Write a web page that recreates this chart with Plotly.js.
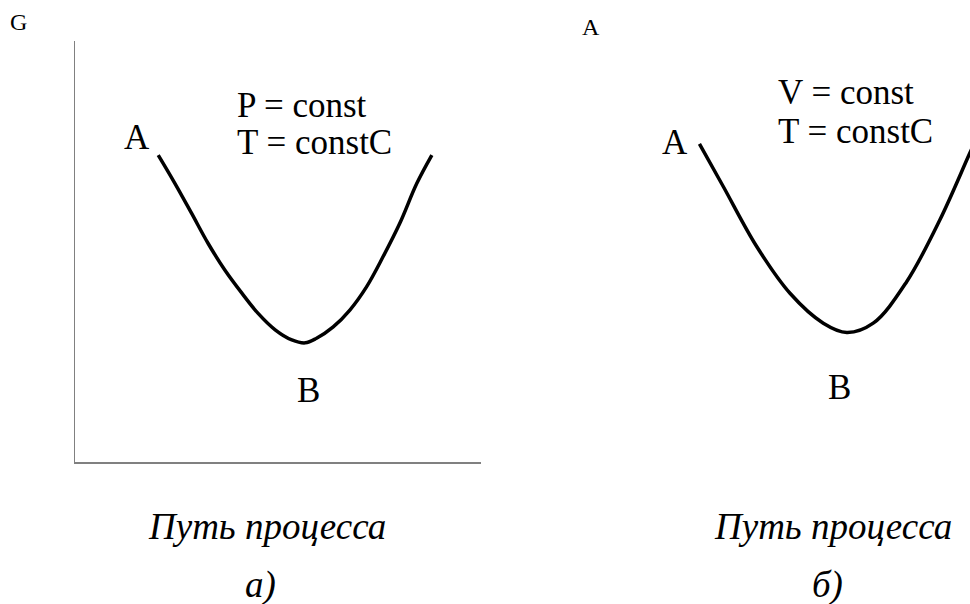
<!DOCTYPE html>
<html>
<head>
<meta charset="utf-8">
<script src="https://cdn.plot.ly/plotly-3.0.1.min.js"></script>
<style>
  html, body { margin: 0; padding: 0; background: #fff; }
  #plot { width: 970px; height: 604px; }
</style>
</head>
<body>
<div id="plot"></div>
<script>
// Путь процесса (условные единицы) и G, панель а) P = const
const pathA = [2.05, 2.46, 2.87, 3.28, 3.69, 4.11, 4.51, 4.93, 5.34, 5.67, 5.95, 6.36, 6.77, 7.18, 7.59, 8.00, 8.42, 8.79];
const gA    = [7.29, 6.62, 5.91, 5.19, 4.56, 4.01, 3.53, 3.14, 2.90, 2.83, 2.94, 3.21, 3.61, 4.16, 4.88, 5.67, 6.62, 7.29];

// панель б) V = const
const pathB = [2.08, 2.67, 3.49, 4.31, 5.13, 5.71, 6.36, 7.18, 8.00, 8.74, 9.11];
const gB    = [7.32, 6.30, 4.88, 3.77, 3.06, 2.84, 3.06, 4.04, 5.51, 7.10, 7.89];

const condA = ['P = const', 'T = constC'];
const condB = ['V = const', 'T = constC'];
const pathTitle = 'Путь процесса';
const panelNames = ['а)', 'б)'];

const serif = 'Liberation Serif';

const data = [
    {
        x: pathA, y: gA,
        xaxis: 'x', yaxis: 'y',
        type: 'scatter', mode: 'lines',
        line: { color: 'black', width: 3.5, shape: 'spline', smoothing: 1 },
        hoverinfo: 'skip'
    },
    {
        x: pathB, y: gB,
        xaxis: 'x2', yaxis: 'y2',
        type: 'scatter', mode: 'lines',
        line: { color: 'black', width: 3.5, shape: 'spline', smoothing: 1 },
        hoverinfo: 'skip'
    }
];

const hidden = {
    showgrid: false, zeroline: false, showticklabels: false, ticks: '', fixedrange: true
};

function label(text, x, y, xref, yref, size, extra) {
    return Object.assign({
        text: text, x: x, y: y, xref: xref, yref: yref,
        showarrow: false, xanchor: 'center', yanchor: 'middle',
        font: { family: serif, size: size, color: 'black' }
    }, extra || {});
}

const annotations = [
    label('G', 0.0186, 0.9636, 'paper', 'paper', 24),
    label('A', 0.609, 0.955, 'paper', 'paper', 24),
    // панель а)
    label('A', 1.53, 7.70, 'x', 'y', 35),
    label('B', 5.76, 1.71, 'x', 'y', 35),
    label(condA[0], 3.95, 8.46, 'x', 'y', 35, { xanchor: 'left' }),
    label(condA[1], 3.95, 7.60, 'x', 'y', 35, { xanchor: 'left' }),
    // панель б)
    label('A', 1.48, 7.36, 'x2', 'y2', 35),
    label('B', 5.52, 1.54, 'x2', 'y2', 35),
    label(condB[0], 3.97, 8.53, 'x2', 'y2', 35, { xanchor: 'left' }),
    label(condB[1], 3.97, 7.62, 'x2', 'y2', 35, { xanchor: 'left' }),
    // подписи снизу
    label('<i>' + pathTitle + '</i>', 0.2753, 0.1275, 'paper', 'paper', 37),
    label('<i>' + panelNames[0] + '</i>', 0.269, 0.0315, 'paper', 'paper', 37),
    label('<i>' + pathTitle + '</i>', 0.8588, 0.1275, 'paper', 'paper', 37),
    label('<i>' + panelNames[1] + '</i>', 0.8526, 0.0315, 'paper', 'paper', 37)
];

const layout = {
    width: 970,
    height: 604,
    margin: { l: 0, r: 0, t: 0, b: 0 },
    paper_bgcolor: 'white',
    plot_bgcolor: 'white',
    showlegend: false,
    font: { family: serif },
    xaxis: Object.assign({}, hidden, {
        domain: [75 / 970, 481 / 970], range: [0, 10],
        showline: true, linecolor: '#808080', linewidth: 1.5
    }),
    yaxis: Object.assign({}, hidden, {
        domain: [(604 - 462) / 604, (604 - 41) / 604], range: [0, 10],
        showline: true, linecolor: '#808080', linewidth: 1.5
    }),
    xaxis2: Object.assign({}, hidden, {
        domain: [615 / 970, 1], range: [0, 355 / 40.6],
        showline: false, anchor: 'y2'
    }),
    yaxis2: Object.assign({}, hidden, {
        domain: [(604 - 452) / 604, (604 - 31) / 604], range: [0, 10],
        showline: false, anchor: 'x2'
    }),
    annotations: annotations
};

Plotly.newPlot('plot', data, layout, { displayModeBar: false, staticPlot: true });
</script>
</body>
</html>
